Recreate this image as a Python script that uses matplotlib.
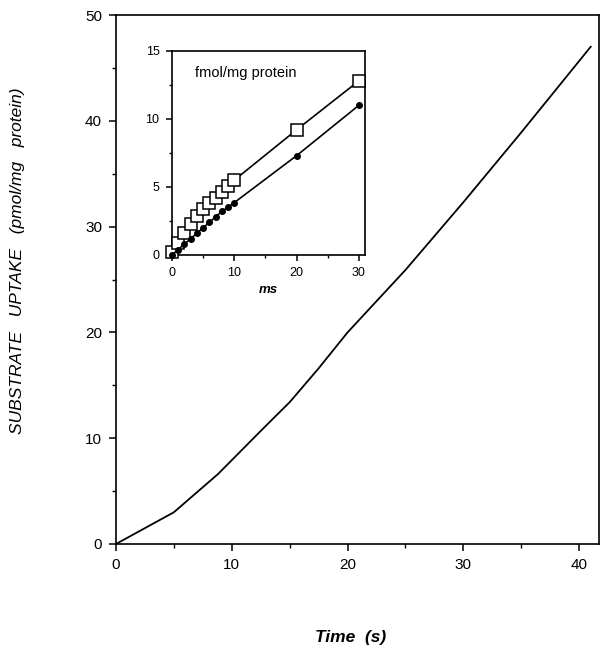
import matplotlib
matplotlib.use("Agg")
import matplotlib.pyplot as plt
from matplotlib.ticker import MultipleLocator

plt.rcParams['font.family'] = ['Liberation Sans', 'DejaVu Sans']

# main time course (s, pmol/mg protein)
time_s = [0, 5, 8.8, 12.7, 15, 17.5, 20, 25, 30, 35, 41]
uptake = [0, 3.0, 6.6, 10.9, 13.4, 16.6, 20.0, 25.9, 32.3, 38.9, 47.0]

# inset: early times (ms, fmol/mg protein)
ms_open = [0, 1, 2, 3, 4, 5, 6, 7, 8, 9, 10, 20, 30]
open_vals = [0.2, 0.9, 1.6, 2.3, 2.9, 3.4, 3.8, 4.2, 4.6, 5.1, 5.5, 9.2, 12.8]
ms_filled = [0, 1, 2, 3, 4, 5, 6, 7, 8, 9, 10, 20, 30]
filled_vals = [0.0, 0.4, 0.8, 1.2, 1.6, 2.0, 2.4, 2.8, 3.2, 3.5, 3.85, 7.3, 11.0]


def style_axis(ax, xmaj, xmin, ymaj, ymin, size):
    ax.xaxis.set_major_locator(MultipleLocator(xmaj))
    ax.xaxis.set_minor_locator(MultipleLocator(xmin))
    ax.yaxis.set_major_locator(MultipleLocator(ymaj))
    ax.yaxis.set_minor_locator(MultipleLocator(ymin))
    ax.tick_params(which='major', direction='out', length=5, width=1.1,
                   labelsize=size, pad=5)
    ax.tick_params(which='minor', direction='out', length=3, width=1.0)
    for sp in ax.spines.values():
        sp.set_linewidth(1.2)


fig = plt.figure(figsize=(6, 6.45), dpi=100)
ax = fig.add_axes([0.1933, 0.1566, 0.8047, 0.8201])
ax.plot(time_s, uptake, color='black', linewidth=1.3)
ax.set_xlim(0, 41.7)
ax.set_ylim(0, 50)
style_axis(ax, 10, 5, 10, 5, 11)

# axis titles placed on the figure
fig.text(0.030, 0.595, 'SUBSTRATE   UPTAKE   (pmol/mg   protein)',
         rotation=90, ha='center', va='center', fontsize=12.5,
         style='italic')
fig.text(0.585, 0.011, 'Time  (s)', ha='center', va='center',
         fontsize=12.5, style='italic', fontweight='bold')

ins = fig.add_axes([0.2867, 0.6047, 0.3217, 0.3163])
ins.plot(ms_open, open_vals, color='black', linewidth=1.2, marker='s',
         markersize=8, markerfacecolor='white', markeredgecolor='black',
         markeredgewidth=1.1, clip_on=False, zorder=3)
ins.plot(ms_filled, filled_vals, color='black', linewidth=1.2, marker='o',
         markersize=4, markerfacecolor='black', clip_on=False, zorder=4)
ins.set_xlim(0, 31)
ins.set_ylim(0, 15)
style_axis(ins, 10, 5, 5, 2.5, 9)
ins.tick_params(which='major', length=4)
ins.tick_params(which='minor', length=2.5)
ins.text(0.12, 0.87, 'fmol/mg protein', transform=ins.transAxes,
         fontsize=10.5)
ins.set_xlabel('ms', fontsize=9.5, style='italic', fontweight='bold',
               labelpad=3)

fig.savefig('out.png', dpi=100)
